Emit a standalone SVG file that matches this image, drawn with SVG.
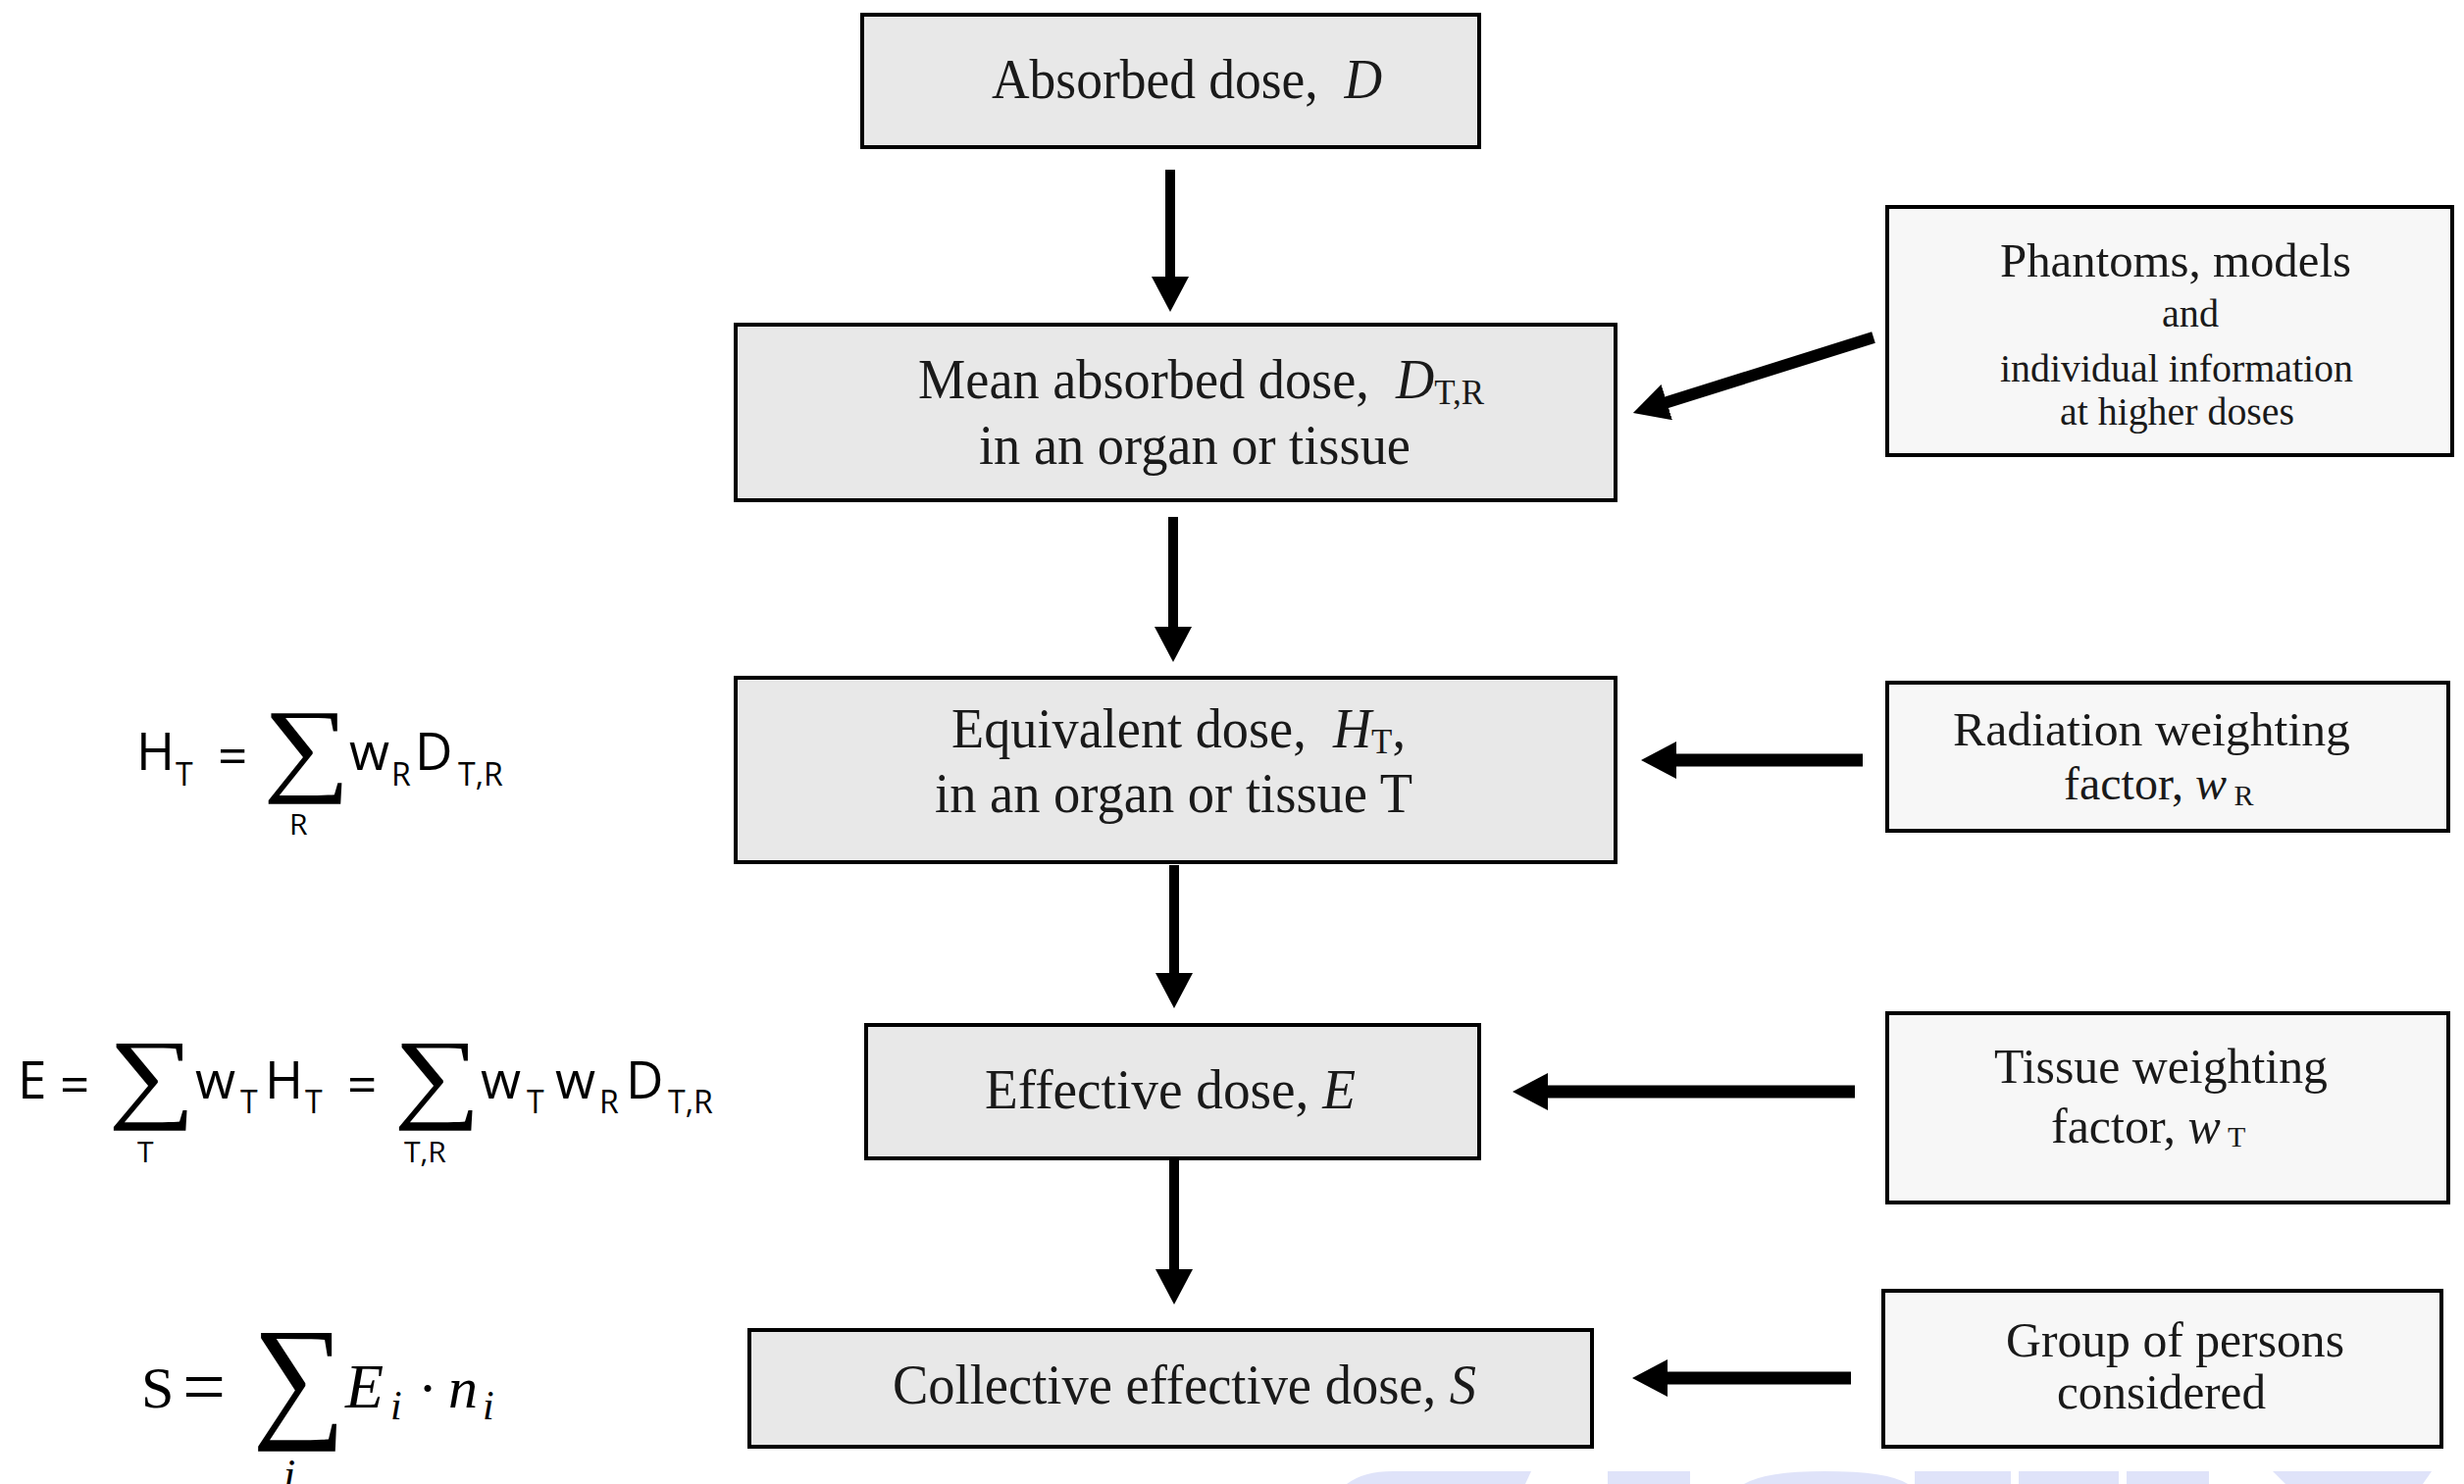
<svg xmlns="http://www.w3.org/2000/svg" width="2512" height="1513" viewBox="0 0 2512 1513">
<defs>
<style>
.main{fill:#e8e8e8;stroke:#000;stroke-width:4}
.side{fill:#f7f7f7;stroke:#000;stroke-width:4}
.t{font-family:"Liberation Serif","Times New Roman",serif;fill:#1a1a1a}
.f{font-family:"Open Sans","Noto Sans",sans-serif;fill:#000}
.m{font-family:"Liberation Serif","DejaVu Serif",serif;fill:#000}
.sig{font-family:"Liberation Serif","DejaVu Serif",serif;fill:#000}
.c{stroke:#000;fill:none}
.wm{fill:#dfe3f9}
</style>
<marker id="ah" markerUnits="userSpaceOnUse" markerWidth="36" markerHeight="38" viewBox="0 0 36 38" refX="16" refY="19" orient="auto"><path d="M0,0 L36,19 L0,38 Z" fill="#000"/></marker>
</defs>
<rect width="2512" height="1513" fill="#fff"/>

<g id="watermark" class="wm">
<path d="M1373,1513 Q1390,1500 1420,1500 L1561,1500 L1555,1513 Z"/>
<rect x="1639" y="1500" width="84" height="13"/>
<path d="M1778,1513 Q1800,1500 1860,1500 Q1925,1500 1945,1513 Z"/>
<rect x="1952" y="1500" width="98" height="13"/>
<rect x="2058" y="1500" width="102" height="13"/>
<rect x="2168" y="1500" width="84" height="13"/>
<path d="M2317,1500 L2479,1500 L2470,1513 L2330,1513 Z"/>
</g>

<g id="connectors" class="c">
<line x1="1193" y1="173" x2="1193" y2="298" stroke-width="10" marker-end="url(#ah)"/>
<line x1="1196" y1="527" x2="1196" y2="655" stroke-width="10" marker-end="url(#ah)"/>
<line x1="1197" y1="882" x2="1197" y2="1008" stroke-width="10" marker-end="url(#ah)"/>
<line x1="1197" y1="1183" x2="1197" y2="1310" stroke-width="10" marker-end="url(#ah)"/>
<line x1="1910" y1="344" x2="1684" y2="415" stroke-width="12" marker-end="url(#ah)"/>
<line x1="1899" y1="775" x2="1693" y2="775" stroke-width="13" marker-end="url(#ah)"/>
<line x1="1891" y1="1113" x2="1562" y2="1113" stroke-width="13" marker-end="url(#ah)"/>
<line x1="1887" y1="1405" x2="1684" y2="1405" stroke-width="13" marker-end="url(#ah)"/>
</g>

<g id="absorbed">
<rect class="main" x="879" y="15" width="629" height="135"/>
<text class="t" x="1011" y="100" font-size="56" textLength="398" lengthAdjust="spacingAndGlyphs">Absorbed dose,&#160; <tspan font-style="italic">D</tspan></text>
</g>

<g id="mean">
<rect class="main" x="750" y="331" width="897" height="179"/>
<text class="t" x="936" y="406" font-size="56" textLength="577" lengthAdjust="spacingAndGlyphs">Mean absorbed dose,&#160; <tspan font-style="italic">D</tspan><tspan font-size="36" dy="6">T,R</tspan></text>
<text class="t" x="998" y="473" font-size="56" textLength="440" lengthAdjust="spacingAndGlyphs">in an organ or tissue</text>
</g>

<g id="equivalent">
<rect class="main" x="750" y="691" width="897" height="188"/>
<text class="t" x="970" y="762" font-size="56" textLength="463" lengthAdjust="spacingAndGlyphs">Equivalent dose,&#160; <tspan font-style="italic">H</tspan><tspan font-size="36" dy="6">T</tspan><tspan dy="-6">,</tspan></text>
<text class="t" x="953" y="828" font-size="56" textLength="487" lengthAdjust="spacingAndGlyphs">in an organ or tissue T</text>
</g>

<g id="effective">
<rect class="main" x="883" y="1045" width="625" height="136"/>
<text class="t" x="1004" y="1130" font-size="56" textLength="378" lengthAdjust="spacingAndGlyphs">Effective dose, <tspan font-style="italic">E</tspan></text>
</g>

<g id="collective">
<rect class="main" x="764" y="1356" width="859" height="119"/>
<text class="t" x="910" y="1431" font-size="56" textLength="595" lengthAdjust="spacingAndGlyphs">Collective effective dose, <tspan font-style="italic">S</tspan></text>
</g>

<g id="phantoms">
<rect class="side" x="1924" y="211" width="576" height="253"/>
<text class="t" x="2039" y="282" font-size="48" textLength="358" lengthAdjust="spacingAndGlyphs">Phantoms, models</text>
<text class="t" x="2204" y="333" font-size="40" textLength="58" lengthAdjust="spacingAndGlyphs">and</text>
<text class="t" x="2039" y="389" font-size="40" textLength="360" lengthAdjust="spacingAndGlyphs">individual information</text>
<text class="t" x="2100" y="433" font-size="40" textLength="239" lengthAdjust="spacingAndGlyphs">at higher doses</text>
</g>

<g id="radiation">
<rect class="side" x="1924" y="696" width="572" height="151"/>
<text class="t" x="1991" y="760" font-size="48" textLength="405" lengthAdjust="spacingAndGlyphs">Radiation weighting</text>
<text class="t" x="2104" y="815" font-size="48">factor, <tspan font-style="italic">w</tspan><tspan font-size="30" dy="6"> R</tspan></text>
</g>

<g id="tissue">
<rect class="side" x="1924" y="1033" width="572" height="193"/>
<text class="t" x="2033" y="1104" font-size="50" textLength="340" lengthAdjust="spacingAndGlyphs">Tissue weighting</text>
<text class="t" x="2091" y="1165" font-size="50">factor, <tspan font-style="italic">w</tspan><tspan font-size="30" dy="4"> T</tspan></text>
</g>

<g id="group">
<rect class="side" x="1920" y="1316" width="569" height="159"/>
<text class="t" x="2045" y="1383" font-size="50" textLength="345" lengthAdjust="spacingAndGlyphs">Group of persons</text>
<text class="t" x="2097" y="1436" font-size="50" textLength="213" lengthAdjust="spacingAndGlyphs">considered</text>
</g>

<g id="formula-ht">
<text class="f" font-size="53"><tspan x="139" y="785">H</tspan><tspan x="179" y="801" font-size="32">T</tspan><tspan x="222" y="790">=</tspan><tspan x="356" y="785">w</tspan><tspan x="399" y="801" font-size="32">R</tspan><tspan x="423" y="785">D</tspan><tspan x="467" y="801" font-size="32">T,R</tspan><tspan x="295" y="851" font-size="30">R</tspan></text>
<text class="sig" x="0" y="0" font-size="120" transform="translate(268,797) scale(1.04,0.885)">∑</text>
</g>

<g id="formula-e">
<text class="f" font-size="53"><tspan x="18" y="1120">E</tspan><tspan x="61" y="1125">=</tspan><tspan x="140" y="1185" font-size="30">T</tspan><tspan x="199" y="1120">w</tspan><tspan x="245" y="1135" font-size="32">T</tspan><tspan x="270" y="1120">H</tspan><tspan x="311" y="1135" font-size="32">T</tspan><tspan x="354" y="1125">=</tspan><tspan x="412" y="1185" font-size="30">T,R</tspan><tspan x="490" y="1120">w</tspan><tspan x="537" y="1135" font-size="32">T</tspan><tspan x="566" y="1120">w</tspan><tspan x="611" y="1135" font-size="32">R</tspan><tspan x="638" y="1120">D</tspan><tspan x="681" y="1135" font-size="32">T,R</tspan></text>
<text class="sig" x="0" y="0" font-size="120" transform="translate(110,1131) scale(1.04,0.856)">∑</text>
<text class="sig" x="0" y="0" font-size="120" transform="translate(401,1131) scale(1.04,0.856)">∑</text>
</g>

<g id="formula-s">
<text class="m" font-size="60"><tspan x="144" y="1435">S</tspan><tspan x="186" y="1440" font-size="78">=</tspan><tspan x="352" y="1435" font-style="italic" font-size="64">E</tspan><tspan x="398" y="1447" font-size="42" font-style="italic">i</tspan><tspan x="426" y="1435">·</tspan><tspan x="457" y="1435" font-style="italic">n</tspan><tspan x="492" y="1447" font-size="42" font-style="italic">i</tspan><tspan x="289" y="1518" font-size="44" font-style="italic">i</tspan></text>
<text class="sig" x="0" y="0" font-size="150" transform="translate(257,1450) scale(0.89,0.927)">∑</text>
</g>
</svg>
